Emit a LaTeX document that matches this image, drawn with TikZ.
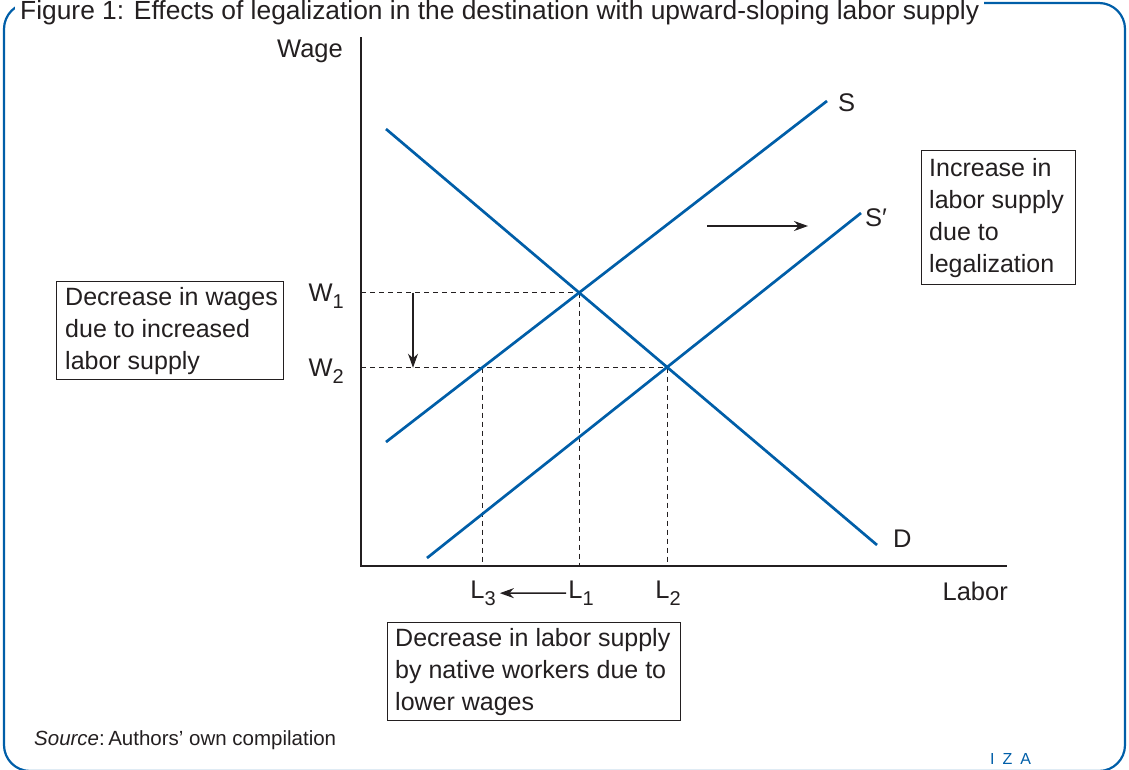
\documentclass[tikz,border=0pt]{standalone}
\usepackage{fontspec}
\setmainfont{Liberation Sans}
\usetikzlibrary{arrows.meta}
\definecolor{izablue}{RGB}{0,94,168}
\definecolor{ink}{RGB}{35,31,32}
\newcommand\lsub[1]{\raisebox{-0.3em}{\fontsize{20}{20}\selectfont #1}}
\begin{document}
\begin{tikzpicture}[x=1pt,y=-1pt,
  every node/.style={text=ink, inner sep=0pt},
  lab/.style={font=\fontsize{25.5}{32}\selectfont},
  boxtext/.style={font=\fontsize{25}{32}\selectfont, anchor=west, align=left},
  curve/.style={izablue, line width=2.7pt},
  axis/.style={ink, line width=1.4pt},
  guide/.style={ink, line width=1.2pt, dash pattern=on 5pt off 4pt},
  arr/.style={ink, line width=1.4pt, -{Stealth[length=14pt,width=10pt]}},
  note/.style={draw=ink, line width=1.3pt}]
\useasboundingbox (0,0) rectangle (1129,769);
% frame
\draw[izablue, line width=2.2pt, rounded corners=26pt] (4,3) rectangle (1125,771);
\node[fill=white, anchor=base west, inner xsep=5pt, inner ysep=3pt] (title) at (15,19)
  {\resizebox{959pt}{19pt}{\fontsize{27}{27}\selectfont Figure 1: Effects of legalization in the destination with upward-sloping labor supply}};
% coordinates
\coordinate (O) at (361,566);
\coordinate (Ytop) at (361,37);
\coordinate (Xend) at (1007,566);
\coordinate (D1) at (386,129);
\coordinate (D2) at (877,545);
\coordinate (S1) at (386,442);
\coordinate (S2) at (827,101);
\coordinate (T1) at (427,558);
\coordinate (T2) at (861,213);
\coordinate (E1) at (579.5,292.7);
\coordinate (E2) at (667.5,367.7);
\coordinate (E3) at (482.5,367.7);
\coordinate (w1) at (361,292.7);
\coordinate (w2) at (361,367.7);
\coordinate (l1) at (579.5,566);
\coordinate (l2) at (667.5,566);
\coordinate (l3) at (482.5,566);
\coordinate (a1) at (413,292.7);
\coordinate (a2) at (413,367.7);
\coordinate (r1) at (707,226);
\coordinate (r2) at (808,226);
% guides
\draw[guide] (w1) -- (E1);
\draw[guide] (E1) -- (l1);
\draw[guide] (w2) -- (E2);
\draw[guide] (E2) -- (l2);
\draw[guide] (E3) -- (l3);
% axes
\draw[axis] (Ytop) -- (O) -- (Xend);
% curves
\draw[curve] (D1) -- (D2);
\draw[curve] (S1) -- (S2);
\draw[curve] (T1) -- (T2);
% arrows
\draw[arr] (a1) -- (a2);
\draw[arr] (r1) -- (r2);
% labels
\node[lab, anchor=base east] (wage) at (343,57) {Wage};
\node[lab, anchor=base east] (labor) at (1008,600) {Labor};
\node[lab, anchor=base east] (W1) at (344,301) {W\lsub{1}};
\node[lab, anchor=base east] (W2) at (344,376) {W\lsub{2}};
\node[lab, anchor=base] (L3) at (483,598) {L\lsub{3}};
\node[lab, anchor=base] (L1) at (581,598) {L\lsub{1}};
\node[lab, anchor=base] (L2) at (668,598) {L\lsub{2}};
\node[lab, anchor=base west] (Slab) at (838,111) {S};
\node[lab, anchor=base west] (Splab) at (865,226) {S′};
\node[lab, anchor=base west] (Dlab) at (893,547) {D};
\draw[arr] ([xshift=-2pt]L1.west) -- ([xshift=4pt]L3.east);
% boxes
\node[note, minimum width=227pt, minimum height=98pt, anchor=north west] (wbox) at (56,281) {};
\node[boxtext] (wtext) at ([xshift=9pt]wbox.west) {Decrease in wages\\due to increased\\labor supply};
\node[note, minimum width=154pt, minimum height=134pt, anchor=north west] (ibox) at (921,150) {};
\node[boxtext] (itext) at ([xshift=8pt]ibox.west) {Increase in\\labor supply\\due to\\legalization};
\node[note, minimum width=293pt, minimum height=98pt, anchor=north west] (nbox) at (387,622) {};
\node[boxtext] (ntext) at ([xshift=8pt]nbox.west) {Decrease in labor supply\\by native workers due to\\lower wages};
% footer
\node[anchor=base west, font=\fontsize{20.5}{24}\selectfont] (src) at (34,745) {\textit{Source}:\,Authors’ own compilation};
\node[anchor=base west, text=izablue, font=\fontsize{16}{16}\selectfont] (iza) at (990,764) {I\hspace{8pt}Z\hspace{8pt}A};
\end{tikzpicture}
\end{document}
